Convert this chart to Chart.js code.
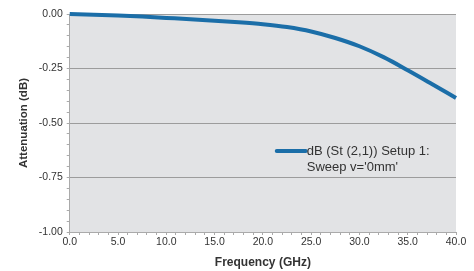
<!DOCTYPE html>
<html>
<head>
<meta charset="utf-8">
<script src="https://cdn.jsdelivr.net/npm/chart.js@4/dist/chart.umd.min.js"></script>
<style>
  html, body { margin: 0; padding: 0; background: #fff; }
  #wrap { width: 474px; height: 271px; }
</style>
</head>
<body>
<div id="wrap"><canvas id="attChart"></canvas></div>
<script>
// frequency points (GHz) and attenuation (dB)
const freqGHz = [0, 2.5, 5, 7.5, 10, 12.5, 15, 17.5, 20, 22.5, 25, 27.5, 30, 32.5, 35, 37.5, 40];
const attenDb = [0, -0.003, -0.007, -0.012, -0.018, -0.024, -0.031, -0.038, -0.047, -0.06, -0.08, -0.11, -0.148, -0.198, -0.258, -0.321, -0.385];
const seriesLabel = ["dB (St (2,1)) Setup 1:", "Sweep v='0mm'"];

const lineBlue = "#1b6ea8";
const fontFam = "'Liberation Sans', Arial, sans-serif";

// grey plot background
const plotBg = {
  id: "plotBg",
  beforeDraw(chart) {
    const { ctx, chartArea: a } = chart;
    ctx.save();
    ctx.fillStyle = "#e2e3e5";
    ctx.fillRect(a.left, a.top, a.right - a.left, a.bottom - a.top);
    ctx.restore();
  },
};

// legend drawn inside the plot, two text lines
const innerLegend = {
  id: "innerLegend",
  afterDraw(chart) {
    const { ctx, chartArea: a } = chart;
    const x0 = a.left + 207, y0 = a.top + 137;
    ctx.save();
    ctx.strokeStyle = lineBlue;
    ctx.lineWidth = 4;
    ctx.lineCap = "round";
    ctx.beginPath();
    ctx.moveTo(x0, y0);
    ctx.lineTo(x0 + 29, y0);
    ctx.stroke();
    ctx.fillStyle = "#333";
    ctx.font = "13px " + fontFam;
    ctx.textBaseline = "middle";
    ctx.fillText(seriesLabel[0], x0 + 30, y0);
    ctx.fillText(seriesLabel[1], x0 + 30, y0 + 16);
    ctx.restore();
  },
};

const ctx = document.getElementById("attChart").getContext("2d");
new Chart(ctx, {
  type: "line",
  data: {
    datasets: [
      {
        label: seriesLabel.join(" "),
        data: freqGHz.map((f, i) => ({ x: f, y: attenDb[i] })),
        borderColor: lineBlue,
        borderWidth: 4,
        pointRadius: 0,
        cubicInterpolationMode: "monotone",
        fill: false,
        clip: false,
      },
    ],
  },
  options: {
    responsive: true,
    maintainAspectRatio: false,
    animation: false,
    layout: { padding: { left: 17, right: 18, top: 14, bottom: 1 } },
    plugins: {
      legend: { display: false },
      tooltip: { enabled: false },
    },
    scales: {
      x: {
        type: "linear",
        min: 0,
        max: 40,
        ticks: {
          stepSize: 1,
          autoSkip: false,
          maxRotation: 0,
          color: "#333",
          font: { family: fontFam, size: 10.5 },
          padding: 1,
          callback: (v) => (Math.round(v) % 5 === 0 ? Number(v).toFixed(1) : ""),
        },
        grid: {
          color: "transparent",
          tickColor: "#aaa",
          tickLength: 3,
        },
        border: { color: "#aaa" },
        title: {
          display: true,
          text: "Frequency (GHz)",
          color: "#333",
          font: { family: fontFam, size: 12, weight: "bold" },
          padding: { top: 6, bottom: 0 },
        },
      },
      y: {
        min: -1,
        max: 0,
        ticks: {
          stepSize: 0.05,
          autoSkip: false,
          color: "#333",
          font: { family: fontFam, size: 10.5 },
          padding: 4,
          callback: (v) => (Math.round(v * 100) % 25 === 0 ? Number(v).toFixed(2) : ""),
        },
        grid: {
          color: (c) => (Math.round(c.tick.value * 100) % 25 === 0 && c.tick.value > -1 ? "#9c9c9c" : "transparent"),
          tickColor: "#aaa",
          tickLength: 3,
        },
        border: { color: "#aaa" },
        title: {
          display: true,
          text: "Attenuation (dB)",
          color: "#333",
          font: { family: fontFam, size: 11.5, weight: "bold" },
          padding: { top: 0, bottom: 4 },
        },
      },
    },
  },
  plugins: [plotBg, innerLegend],
});
</script>
</body>
</html>
